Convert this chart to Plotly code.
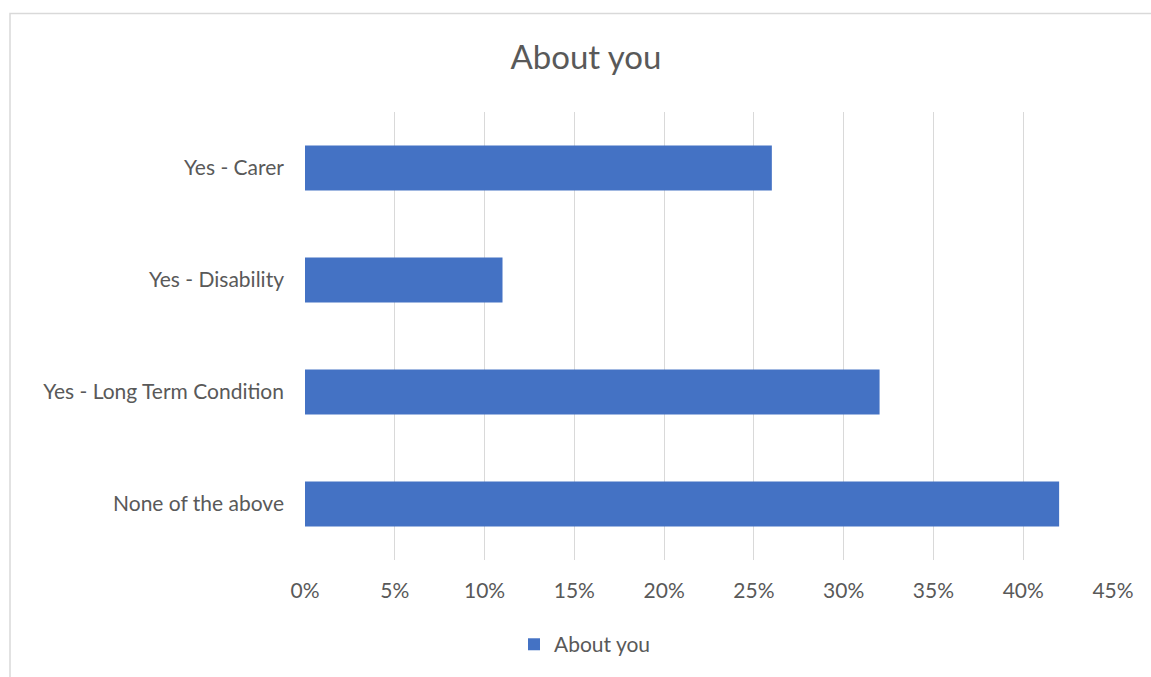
import plotly.graph_objects as go

categories = ["None of the above", "Yes - Long Term Condition", "Yes - Disability", "Yes - Carer"]
values = [0.42, 0.32, 0.11, 0.26]
tick_vals = [0, 0.05, 0.10, 0.15, 0.20, 0.25, 0.30, 0.35, 0.40, 0.45]
tick_text = ["0%", "5%", "10%", "15%", "20%", "25%", "30%", "35%", "40%", "45%"]
series_name = "About you"
title_text = "About you"

W, H = 1151, 677
L, R, T, B = 305, 38, 112, 115
font = "Lato, 'Open Sans', sans-serif"
txt = "#595959"

fig = go.Figure()
fig.add_trace(go.Bar(
    y=categories, x=values, orientation="h", name=series_name,
    marker=dict(color="#4472C4", line=dict(width=0)),
    showlegend=True,
))

pw = W - L - R
ph = H - T - B
fig.update_layout(
    width=W, height=H,
    margin=dict(l=L, r=R, t=T, b=B),
    paper_bgcolor="white", plot_bgcolor="white",
    font=dict(family=font, color=txt, size=21),
    title=dict(text=title_text, x=586 / W, xref="container", xanchor="center",
               y=1 - 57 / H, yref="container", yanchor="middle",
               font=dict(size=33, color=txt, family=font)),
    bargap=0.6,
    showlegend=True,
    legend=dict(orientation="h", x=(585 - L) / pw, xanchor="center",
                y=-(647 - (H - B)) / ph, yanchor="middle",
                font=dict(size=21, color=txt), itemwidth=30),
    xaxis=dict(range=[0, 0.45], tickvals=tick_vals, ticktext=tick_text,
               showgrid=True, gridcolor="#d9d9d9", gridwidth=1,
               zeroline=False, showline=False, ticks="",
               ticklabelstandoff=16, tickfont=dict(size=21, color=txt)),
    yaxis=dict(showgrid=False, zeroline=False, showline=False, ticks="",
               ticklabelstandoff=20, tickfont=dict(size=21, color=txt)),
    shapes=[dict(type="rect", xref="paper", yref="paper",
                 x0=(10 - L) / pw, x1=(1160 - L) / pw,
                 y0=-(690 - (H - B)) / ph, y1=1 + (T - 13) / ph,
                 line=dict(color="#d9d9d9", width=1.5), fillcolor="rgba(0,0,0,0)", layer="below")],
)

fig.write_html("out.html", config={"displayModeBar": False},
               post_script="document.body.style.margin='0';document.body.style.overflow='hidden';")
